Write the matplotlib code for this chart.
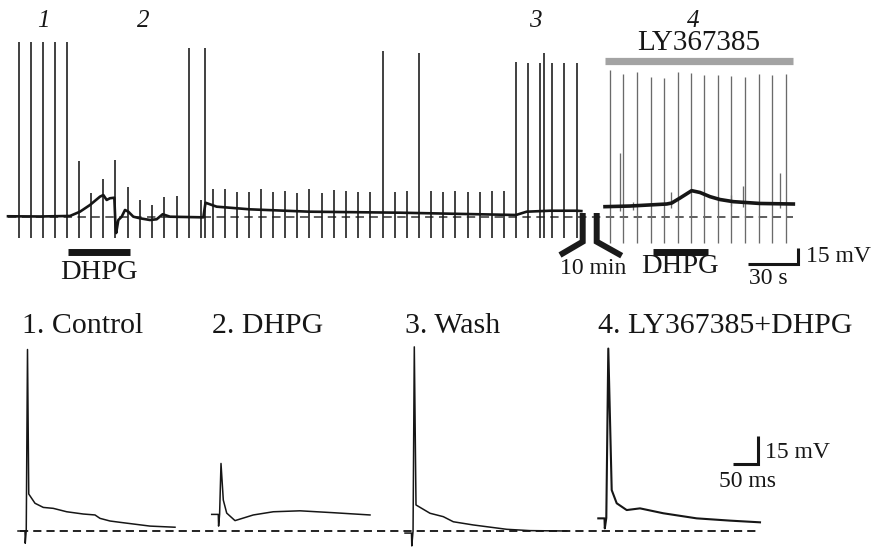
import numpy as np
import matplotlib
matplotlib.use("Agg")
import matplotlib.pyplot as plt

plt.rcParams['font.family'] = ['Liberation Serif', 'DejaVu Serif']

# ------------------------------------------------------------------
# DATA (top recording, time in s, membrane potential in mV re: rest)
# ------------------------------------------------------------------
# Segment 1: control -> DHPG -> wash
seg1_t = [0, 19.2, 37.2, 43.2, 49.2, 55.2, 57.2, 59.2, 61.2, 63.8, 64.5, 64.9,
          66.2, 68.2, 70.2, 72.2, 75.2, 79.2, 85.2, 89.2, 92.8, 97.2, 117.2,
          118.5, 125.2, 145.2, 180.8, 235.2, 304.8, 311.2, 325.2, 341.2, 344.0]
seg1_v = [0.4, 0.2, 0.7, 4.7, 11.0, 18.8, 20.3, 15.7, 17.3, 17.8, -8.7, -15.3,
          -3.1, 0.0, 6.3, 4.7, 0.0, -1.5, -3.1, -2.4, 2.3, 0.0, -0.6,
          13.1, 9.4, 6.9, 4.7, 3.75, 1.6, 4.7, 5.6, 5.6, 5.3]
spike1_t = [6.6, 13.8, 21.0, 28.4, 35.6, 108.4, 118.2, 224.8, 246.4, 304.8,
            312.0, 319.4, 321.8, 326.6, 333.8, 341.2]
spike1_peak = [163.8, 163.8, 163.8, 163.8, 163.8, 158.2, 158.2, 155.6, 153.8,
               144.8, 144.4, 143.8, 153.5, 143.8, 144.4, 143.8]
event1_t = [42.8, 50.0, 57.0, 64.2, 72.0, 79.2, 86.4, 93.8, 101.2, 115.6,
            122.8, 130.0, 137.4, 144.6, 151.8, 159.2, 166.4, 173.6, 180.8,
            188.4, 195.6, 202.8, 210.2, 217.4, 232.2, 239.2, 253.8, 261.0,
            268.4, 275.8, 283.0, 290.2, 297.6]
event1_peak = [52.2, 22.2, 35.3, 53.2, 27.8, 15.7, 11.0, 18.5, 19.4, 15.7,
               26.0, 26.0, 23.2, 23.2, 26.0, 23.2, 24.1, 22.2, 26.0,
               22.5, 25.0, 24.4, 23.2, 23.2, 23.2, 24.1, 24.4, 23.2,
               24.1, 23.2, 23.2, 24.4, 24.1]
spike1_floor = -20.0

# Segment 2: LY367385 (+ DHPG), time from segment start
seg2_t = [0, 15, 37, 40, 45, 52, 57, 63, 69, 77, 93, 113]
seg2_v = [9.4, 10.0, 11.9, 12.8, 17.5, 24.4, 22.7, 18.8, 16.1, 14.1, 12.4, 11.9]
spike2_t = [3.0, 11.0, 19.2, 27.4, 35.4, 43.6, 51.4, 59.6, 67.6, 75.8, 84.0,
            92.2, 100.4, 108.4]
spike2_peak = [137.5, 133.5, 135.7, 131.3, 129.8, 135.7, 135.0, 132.8, 132.8,
               131.9, 130.7, 133.5, 132.8, 133.5]
event2_t = [9.0, 16.9, 39.4, 75.4, 83.0, 105.0]
event2_peak = [60.0, 14.0, 23.4, 20.3, 28.8, 41.0]
spike2_floor = -25.0

dhpg1_window = (36.0, 73.2)      # s, segment 1
dhpg2_window = (28.8, 61.8)      # s, segment 2
ly_window = (0.0, 112.8)         # s, segment 2
episode_labels = ['1', '2', '3', '4']
episode_label_t = [21.0, 81.0, 316.2, 411.0]  # s on top time axis

# ------------------------------------------------------------------
# DATA (single action potentials, time in ms re: spike, mV re: rest)
# ------------------------------------------------------------------
ap_titles = ['1. Control', '2. DHPG', '3. Wash', '4. LY367385+DHPG']
ap1_t = [-19, -5, -4.5, -2.5, 0, 2.5, 15, 31.6, 51.6, 78.4, 111.6, 135, 145, 165, 185, 245, 295]
ap1_v = [0, 0, -6.5, 0.5, 96.2, 19.6, 14.7, 12.5, 12.0, 10.2, 9.0, 8.5, 6.7, 5.3, 4.6, 2.6, 2.0]
ap2_t = [-18.6, -5.4, -4.8, -2.8, 0, 4.6, 11.4, 28, 64.6, 104.6, 158, 224.6, 298]
ap2_v = [8.8, 8.8, 2.6, 8.8, 35.8, 16.4, 9.5, 5.5, 8.5, 10.2, 10.7, 9.7, 8.5]
ap3_t = [-18.6, -5.6, -5.0, -2.5, 0, 3.4, 31.4, 58, 78, 118, 184.8, 231.4, 304.8]
ap3_v = [-1.1, -1.1, -7.9, 0, 97.6, 13.8, 9.4, 7.6, 4.9, 3.2, 0.9, 0.2, 0]
ap4_t = [-20, -7.6, -7.0, -4.0, 0, 6.8, 16.8, 36.8, 63.4, 110, 176.8, 243.4, 303.4]
ap4_v = [6.7, 6.7, 1.4, 6.9, 96.7, 21.7, 14.7, 11.1, 12.0, 9.4, 6.7, 5.5, 4.6]

# ------------------------------------------------------------------
# LAYOUT
# ------------------------------------------------------------------
W, H = 871, 548
fig = plt.figure(figsize=(W / 100, H / 100), dpi=100)

# top axes: pixel rows 0..300
TOP_Y0, TOP_Y1 = 0, 300
T_PX_S = 5 / 3.0        # px per s
T_PX_MV = 16 / 15.0     # px per mV
T_X0 = 8.0              # px of t=0
T_V0 = 216.7            # px of 0 mV
seg2_offset = 358.2     # s, where segment 2 is placed on the axis

axT = fig.add_axes([0, (H - TOP_Y1) / H, 1, (TOP_Y1 - TOP_Y0) / H])
axT.set_xlim((0 - T_X0) / T_PX_S, (W - T_X0) / T_PX_S)
axT.set_ylim((T_V0 - TOP_Y1) / T_PX_MV, (T_V0 - TOP_Y0) / T_PX_MV)
axT.axis('off')

def tx(px):
    return (px - T_X0) / T_PX_S

def ty(py):
    return (T_V0 - py) / T_PX_MV

ink = '#161616'
serif_it = dict(family=['Liberation Serif', 'DejaVu Serif'], style='italic')

# dashed resting line
seg2_t_abs = np.array(seg2_t) + seg2_offset
axT.plot([seg1_t[0], seg2_t_abs[-1]], [0, 0], color='#333333', lw=1.1,
         dashes=(5.5, 3.6), zorder=1)

# segment 1 spikes and events
axT.vlines(spike1_t, spike1_floor, spike1_peak, color=ink, lw=1.15, zorder=2)
axT.vlines(event1_t, spike1_floor, event1_peak, color=ink, lw=1.15, zorder=2)
axT.plot(seg1_t, seg1_v, color=ink, lw=1.9, zorder=3, solid_joinstyle='round')

# segment 2
spike2_abs = np.array(spike2_t) + seg2_offset
axT.vlines(spike2_abs, spike2_floor, spike2_peak, color='#6a6a6a', lw=0.95, zorder=2)
ev2_abs = np.array(event2_t) + seg2_offset
ev2_base = np.interp(ev2_abs, seg2_t_abs, seg2_v)
axT.vlines(ev2_abs, ev2_base - 4, event2_peak, color='#6a6a6a', lw=0.95, zorder=2)
axT.plot(seg2_t_abs, seg2_v, color=ink, lw=2.6, zorder=3, solid_joinstyle='round')

# break symbol (10 min gap)
axT.plot([tx(582.7), tx(582.7), tx(560)], [ty(213), ty(241.7), ty(255)],
         color='#1a1a1a', lw=4.3, solid_joinstyle='miter', solid_capstyle='butt', zorder=4)
axT.plot([tx(596.7), tx(596.7), tx(621.7)], [ty(213), ty(241.7), ty(255.7)],
         color='#1a1a1a', lw=4.3, solid_joinstyle='miter', solid_capstyle='butt', zorder=4)
axT.text(tx(593), ty(269), '10 min', ha='center', va='center', fontsize=17, color=ink)

# drug bars
axT.plot(dhpg1_window, [ty(252)] * 2, color=ink, lw=5.0, solid_capstyle='butt')
axT.text(np.mean(dhpg1_window), ty(272.5), 'DHPG', ha='center', va='center',
         fontsize=20.5, color=ink)
d2 = np.array(dhpg2_window) + seg2_offset
axT.plot(d2, [ty(252)] * 2, color=ink, lw=5.0, solid_capstyle='butt')
axT.text(tx(680), ty(266.5), 'DHPG', ha='center', va='center', fontsize=20.5, color=ink)
ly = np.array(ly_window) + seg2_offset
axT.plot(ly, [ty(61)] * 2, color='#a3a3a3', lw=5.2, solid_capstyle='butt')
axT.text(np.mean(ly), ty(43), 'LY367385', ha='center', va='center', fontsize=21, color=ink)

# episode markers
for lab, t in zip(episode_labels, episode_label_t):
    axT.text(t, ty(21), lab, ha='center', va='center', fontsize=18, color=ink, **serif_it)

# top scale bar: 30 s, 15 mV
cx, cy = tx(798), ty(264)
axT.plot([cx - 30, cx, cx], [cy, cy, cy + 15], color=ink, lw=2.2,
         solid_joinstyle='miter', solid_capstyle='butt')
axT.text(tx(806), ty(257), '15 mV', ha='left', va='center', fontsize=17, color=ink)
axT.text(cx - 15 - 3, ty(279), '30 s', ha='center', va='center', fontsize=17, color=ink)

# ------------------------------------------------------------------
# bottom axes: pixel rows 295..548
BOT_Y0, BOT_Y1 = 295, 548
B_PX_MS = 0.5
B_PX_MV = 28.3 / 15
B_V0 = 531.0
axB = fig.add_axes([0, 0, 1, (BOT_Y1 - BOT_Y0) / H])
axB.set_xlim(0, W / B_PX_MS)
axB.set_ylim((B_V0 - BOT_Y1) / B_PX_MV, (B_V0 - BOT_Y0) / B_PX_MV)
axB.axis('off')
axB.patch.set_alpha(0)

def bx(px):
    return px / B_PX_MS

def by(py):
    return (B_V0 - py) / B_PX_MV

ap_t = [ap1_t, ap2_t, ap3_t, ap4_t]
ap_v = [ap1_v, ap2_v, ap3_v, ap4_v]
ap_pos_px = [27.5, 221, 414.3, 608.3]
title_px = [22, 212, 405, 598]
ap_lw = [1.1, 1.1, 1.1, 1.5]

axB.plot([bx(20), bx(760)], [0, 0], color='#222222', lw=1.4, dashes=(4.2, 2.6), zorder=1)
for t, v, p, tp, lw, title in zip(ap_t, ap_v, ap_pos_px, title_px, ap_lw, ap_titles):
    axB.plot(np.array(t) + bx(p), v, color=ink, lw=lw, zorder=3)
    axB.text(bx(tp), by(326), title, ha='left', va='center', fontsize=21.5, color=ink)

# bottom scale bar: 50 ms, 15 mV
bcx, bcy = bx(758.3), by(464)
axB.plot([bcx - 50, bcx, bcx], [bcy, bcy, bcy + 15], color=ink, lw=2.2,
         solid_joinstyle='miter', solid_capstyle='butt')
axB.text(bx(765), by(452), '15 mV', ha='left', va='center', fontsize=17, color=ink)
axB.text(bx(747), by(481.5), '50 ms', ha='center', va='center', fontsize=17, color=ink)

fig.savefig('out.png', dpi=100)
